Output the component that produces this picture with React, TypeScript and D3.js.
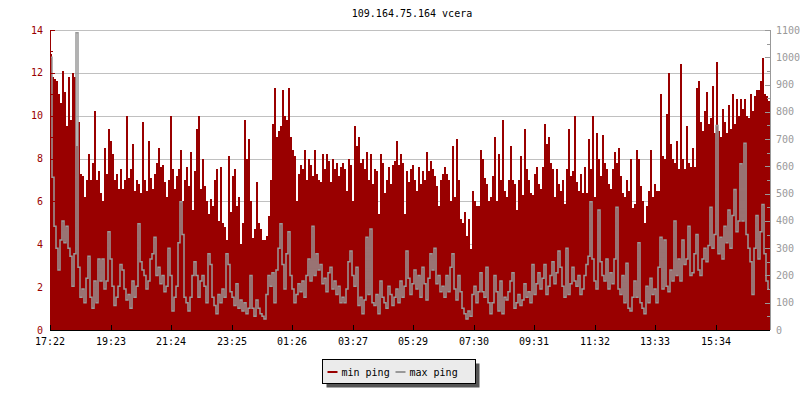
import React from 'react';
import * as d3 from 'd3';

const title = '109.164.75.164 vcera';
const seriesNames = ['min ping', 'max ping'];
const xTickLabels = ['17:22', '19:23', '21:24', '23:25', '01:26', '03:27', '05:29', '07:30', '09:31', '11:32', '13:33', '15:34'];
const minutesPerSample = 4;
const minutesPerTick = 121;
const totalMinutes = 1440;
const leftMax = 14;
const rightMax = 1100;

const minPing = [
  12.9, 11.8, 11.7, 11.6, 11.0, 10.6, 12.1, 11.1, 9.5, 11.8, 9.8, 12.0, 11.8, 8.6, 9.7, 7.3, 7.2, 6.2, 7.0, 8.2,
  7.0, 7.8, 10.2, 7.0, 7.4, 6.4, 6.0, 8.5, 7.3, 9.4, 8.8, 8.2, 7.0, 7.3, 6.6, 7.5, 6.6, 7.0, 10.0, 7.1,
  7.5, 8.7, 6.5, 7.0, 6.8, 6.4, 9.7, 7.0, 6.5, 8.8, 7.1, 6.6, 7.3, 7.8, 8.5, 7.6, 7.7, 6.9, 6.2, 7.0,
  10.0, 7.5, 6.6, 7.2, 7.5, 8.4, 6.0, 7.0, 7.6, 6.7, 8.3, 5.6,
  7.4, 9.4, 10.0, 6.6, 8.0, 6.7, 6.0, 5.4, 6.1, 5.8, 7.0, 7.5, 5.1, 7.6, 5.0, 4.8, 4.2, 8.1, 5.5, 7.2,
  7.5, 5.8, 6.2, 4.0, 5.0, 9.8, 8.0, 8.9, 6.0, 4.3, 4.7, 6.9, 5.0, 4.7, 4.2, 4.2, 4.4, 5.3, 7.0, 9.6,
  11.3, 9.0, 9.3, 9.5, 11.2, 10.0, 9.8, 11.3, 9.0, 8.4, 8.1, 6.0, 7.3, 7.7, 7.5, 8.4, 7.0, 8.0, 7.7, 7.2,
  8.4, 7.3, 7.0, 6.9, 8.2, 7.5, 8.2, 7.9, 6.9, 8.0, 7.5, 7.8,
  7.2, 7.6, 7.8, 7.5, 6.5, 8.0, 7.7, 6.0, 9.5, 8.6, 9.0, 7.8, 8.0, 7.5, 8.3, 7.0, 8.2, 6.8, 7.5, 7.4,
  5.4, 8.2, 7.8, 6.4, 7.0, 7.6, 6.8, 7.7, 7.9, 8.8, 7.7, 8.2, 7.8, 5.4, 7.4, 6.9, 7.5, 7.7, 7.0, 6.5,
  7.6, 6.8, 7.4, 7.0, 8.3, 7.4, 7.9, 7.5, 7.2, 6.7, 5.8, 7.0, 7.3, 7.6, 7.3, 7.0, 6.0, 8.6, 6.2, 8.9,
  7.0, 5.2, 5.0, 5.5, 4.4, 5.2, 3.8, 6.5, 6.0, 5.8, 5.8, 8.4,
  8.0, 7.1, 6.8, 6.0, 6.2, 7.2, 9.0, 6.0, 8.2, 7.0, 9.8, 6.5, 6.2, 7.0, 8.6, 7.0, 6.8, 5.6, 7.0, 8.1,
  6.3, 9.4, 7.5, 7.0, 6.4, 6.3, 7.3, 7.6, 6.8, 6.6, 7.6, 9.6, 8.7, 9.0, 7.8, 7.5, 6.2, 7.5, 6.8, 6.5,
  7.0, 5.9, 7.5, 9.4, 7.2, 7.4, 10.0, 6.9, 6.5, 7.3, 6.4, 7.6, 6.4, 8.9, 7.5, 10.0, 6.2, 9.2, 8.0, 7.2,
  9.1, 7.8, 7.5, 6.8, 6.6, 7.5, 8.3, 7.8, 8.5, 7.2, 6.4, 6.2,
  7.0, 6.5, 8.0, 5.7, 5.9, 8.4, 8.0, 6.7, 6.0, 5.0, 5.8, 6.5, 8.4, 6.2, 6.8, 6.5, 6.5, 11.0, 8.1, 8.0,
  10.1, 12.0, 8.7, 8.0, 7.8, 8.8, 7.5, 12.4, 8.0, 7.5, 9.5, 7.8, 7.6, 8.5, 7.6, 11.3, 11.6, 9.7, 9.3, 10.2,
  11.1, 9.6, 9.9, 11.4, 9.2, 12.5, 9.3, 9.0, 10.3, 9.7, 9.2, 10.5, 9.4, 11.0, 9.6, 10.8, 10.0, 10.8, 10.3, 10.8,
  10.0, 9.9, 11.0, 10.2, 10.9, 11.2, 11.2, 11.6, 12.7, 11.0, 10.9, 10.7,
];

const maxPing = [
  1000, 560, 380, 300, 220, 330, 400, 320, 380, 300, 270, 160, 280, 1090, 230, 120, 150, 100, 190, 270,
  120, 80, 180, 100, 260, 180, 260, 150, 180, 360, 260, 160, 90, 120, 160, 240, 220, 150, 110, 130,
  80, 180, 120, 160, 390, 250, 220, 200, 150, 180, 260, 280, 340, 200, 230, 170, 200, 140, 160, 300,
  200, 70, 120, 160, 320, 470, 350, 120, 100, 70, 120, 200,
  250, 200, 120, 180, 200, 160, 100, 280, 240, 120, 90, 60, 130, 100, 150, 120, 280, 240, 140, 120,
  90, 170, 80, 110, 70, 100, 60, 80, 200, 80, 50, 110, 80, 60, 50, 40, 130, 200, 160, 210,
  100, 220, 300, 390, 240, 150, 280, 360, 200, 150, 100, 130, 170, 140, 180, 120, 200, 260, 180, 380,
  200, 280, 220, 240, 170, 190, 140, 210, 230, 150, 180, 130,
  160, 100, 120, 100, 150, 250, 290, 200, 160, 230, 90, 120, 60, 110, 340, 130, 370, 100, 90, 130,
  60, 180, 120, 100, 80, 160, 130, 90, 120, 150, 100, 180, 120, 160, 290, 190, 130, 170, 220, 150,
  200, 120, 230, 170, 110, 190, 280, 220, 300, 170, 200, 140, 160, 120, 200, 140, 230, 280, 150, 110,
  200, 140, 80, 60, 40, 70, 50, 130, 160, 100, 140, 210,
  140, 120, 230, 100, 60, 100, 200, 140, 70, 180, 60, 120, 110, 140, 180, 210, 80, 100, 130, 90,
  110, 170, 120, 140, 100, 240, 130, 170, 210, 150, 190, 240, 130, 160, 200, 250, 170, 210, 290, 230,
  160, 120, 300, 130, 170, 230, 180, 160, 200, 130, 150, 200, 240, 270, 470, 260, 180, 150, 440, 250,
  200, 180, 260, 150, 210, 170, 260, 450, 150, 130, 200, 100,
  245, 80, 70, 120, 180, 120, 320, 100, 80, 60, 160, 100, 190, 130, 150, 100, 230, 340, 150, 330,
  160, 140, 220, 180, 400, 200, 260, 180, 330, 240, 260, 380, 200, 210, 280, 350, 220, 200, 260, 300,
  250, 310, 450, 300, 350, 750, 280, 340, 260, 380, 320, 440, 300, 420, 515, 360, 400, 610, 400, 685,
  350, 300, 250, 130, 300, 420, 260, 360, 460, 280, 180, 150,
];

const W = 800;
const H = 400;
const M = { left: 50, right: 30, top: 30, bottom: 70 };
const RED = '#990000';
const GRAY = '#999999';
const FONT = '"DejaVu Sans Mono", monospace';
const FS = 10;

export default function App() {
  const x = d3.scaleLinear().domain([0, totalMinutes]).range([M.left, W - M.right]);
  const yL = d3.scaleLinear().domain([0, leftMax]).range([H - M.bottom, M.top]);
  const yR = d3.scaleLinear().domain([0, rightMax]).range([H - M.bottom, M.top]);

  const leftMajor = d3.range(0, leftMax + 0.001, 2);
  const leftMinor = d3.range(1, leftMax, 2);
  const rightMajor = d3.range(0, rightMax + 0.001, 100);
  const rightMinor = d3.range(50, rightMax, 100);

  const minExt = [...minPing, minPing[minPing.length - 1]];
  const area = d3
    .area<number>()
    .x((_, i) => x(i * minutesPerSample))
    .y0(yL(0))
    .y1((d) => yL(d))
    .curve(d3.curveStepAfter);

  const line = d3
    .line<number>()
    .x((_, i) => x(i * minutesPerSample + minutesPerSample / 2))
    .y((d) => yR(d))
    .curve(d3.curveStep);

  const x0 = M.left;
  const x1 = W - M.right;
  const yBottom = H - M.bottom;
  const cx = (x0 + x1) / 2;

  const legX = 322.5;
  const legY = 359.5;
  const legW = 153;
  const legH = 24;

  return (
    <svg width={W} height={H} style={{ position: 'absolute', left: 0, top: 0, background: '#fff' }} fontFamily={FONT}>
      <rect x={0} y={0} width={W} height={H} fill="#fff" />
      <text x={cx + 2} y={17} textAnchor="middle" fontSize={FS} fill="#000">{title}</text>

      {leftMajor.filter((v) => v > 0).map((v) => (
        <line key={'g' + v} x1={x0} x2={x1} y1={Math.round(yL(v)) + 0.5} y2={Math.round(yL(v)) + 0.5} stroke="#c0c0c0" strokeWidth={1} />
      ))}

      <path d={area(minExt) || ''} fill={RED} shapeRendering="crispEdges" />
      <path d={line(maxPing) || ''} fill="none" stroke={GRAY} strokeWidth={1.5} />

      {/* left axis */}
      <line x1={x0 + 0.5} x2={x0 + 0.5} y1={M.top} y2={yBottom} stroke={RED} />
      {leftMajor.map((v) => (
        <g key={'lm' + v}>
          <line x1={x0} x2={x0 + 5} y1={Math.round(yL(v)) + 0.5} y2={Math.round(yL(v)) + 0.5} stroke={RED} />
          <text x={x0 - 7} y={yL(v)} dy="0.35em" textAnchor="end" fontSize={FS} fill={RED}>{v}</text>
        </g>
      ))}
      {leftMinor.map((v) => (
        <line key={'ln' + v} x1={x0} x2={x0 + 3} y1={Math.round(yL(v)) + 0.5} y2={Math.round(yL(v)) + 0.5} stroke={RED} />
      ))}

      {/* right axis */}
      <line x1={x1 + 0.5} x2={x1 + 0.5} y1={M.top} y2={yBottom} stroke={GRAY} />
      {rightMajor.map((v) => (
        <g key={'rm' + v}>
          <line x1={x1 - 5} x2={x1} y1={Math.round(yR(v)) + 0.5} y2={Math.round(yR(v)) + 0.5} stroke={GRAY} />
          <text x={x1 + 6} y={yR(v)} dy="0.35em" textAnchor="start" fontSize={FS} fill={GRAY}>{v}</text>
        </g>
      ))}
      {rightMinor.map((v) => (
        <line key={'rn' + v} x1={x1 - 3} x2={x1} y1={Math.round(yR(v)) + 0.5} y2={Math.round(yR(v)) + 0.5} stroke={GRAY} />
      ))}

      {/* x axis */}
      <line x1={x0} x2={x1} y1={yBottom + 0.5} y2={yBottom + 0.5} stroke="#000" />
      {xTickLabels.map((lab, k) => {
        const px = Math.round(x(k * minutesPerTick)) + 0.5;
        return (
          <g key={'xt' + k}>
            <line x1={px} x2={px} y1={yBottom - 5} y2={yBottom} stroke="#000" />
            <text x={px - 0.5} y={yBottom + 15} textAnchor="middle" fontSize={FS} fill="#000">{lab}</text>
          </g>
        );
      })}

      {/* legend */}
      <rect x={legX + 4} y={legY + 4} width={legW} height={legH} fill="#555555" />
      <rect x={legX} y={legY} width={legW} height={legH} fill="#ebebeb" stroke="#000" strokeWidth={1} />
      <line x1={legX + 5} x2={legX + 15} y1={legY + 12.5} y2={legY + 12.5} stroke={RED} strokeWidth={2} />
      <text x={legX + 19} y={legY + 16} fontSize={FS} fill="#000">{seriesNames[0]}</text>
      <line x1={legX + 73} x2={legX + 83} y1={legY + 12.5} y2={legY + 12.5} stroke={GRAY} strokeWidth={2} />
      <text x={legX + 87} y={legY + 16} fontSize={FS} fill="#000">{seriesNames[1]}</text>
    </svg>
  );
}
